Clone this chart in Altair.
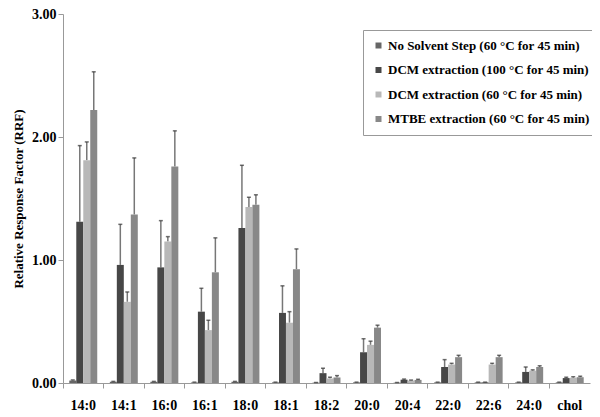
import altair as alt
import pandas as pd

categories = ["14:0", "14:1", "16:0", "16:1", "18:0", "18:1", "18:2", "20:0", "20:4", "22:0", "22:6", "24:0", "chol"]
series = ["No Solvent Step (60 °C for 45 min)",
          "DCM extraction (100 °C for 45 min)",
          "DCM extraction (60 °C for 45 min)",
          "MTBE extraction (60 °C for 45 min)"]
colors = ["#666666", "#474747", "#b8b8b8", "#888888"]

no_solvent = [0.02, 0.01, 0.01, 0.005, 0.01, 0.005, 0.003, 0.005, 0.003, 0.005, 0.005, 0.005, 0.005]
no_solvent_err = [0.005, 0.003, 0.003, 0.002, 0.003, 0.002, 0.001, 0.002, 0.001, 0.002, 0.002, 0.002, 0.002]
dcm100 = [1.31, 0.96, 0.94, 0.58, 1.26, 0.57, 0.08, 0.25, 0.027, 0.13, 0.005, 0.09, 0.04]
dcm100_err = [0.62, 0.33, 0.38, 0.19, 0.51, 0.22, 0.04, 0.11, 0.005, 0.06, 0.002, 0.04, 0.007]
dcm60 = [1.81, 0.66, 1.15, 0.43, 1.43, 0.49, 0.037, 0.31, 0.02, 0.15, 0.15, 0.10, 0.043]
dcm60_err = [0.15, 0.08, 0.04, 0.08, 0.08, 0.09, 0.01, 0.03, 0.004, 0.01, 0.01, 0.007, 0.008]
mtbe = [2.22, 1.37, 1.76, 0.90, 1.45, 0.925, 0.045, 0.45, 0.025, 0.21, 0.21, 0.13, 0.047]
mtbe_err = [0.31, 0.46, 0.29, 0.28, 0.08, 0.165, 0.015, 0.02, 0.005, 0.015, 0.015, 0.01, 0.008]

vals = [no_solvent, dcm100, dcm60, mtbe]
errs = [no_solvent_err, dcm100_err, dcm60_err, mtbe_err]
rows = []
for s, v, e in zip(series, vals, errs):
    for c, vv, ee in zip(categories, v, e):
        rows.append({"cat": c, "series": s, "value": vv, "top": vv + ee})
df = pd.DataFrame(rows)

FONT = "Liberation Serif"

x = alt.X("cat:N", sort=categories, title=None,
          scale=alt.Scale(paddingInner=0, paddingOuter=0),
          axis=alt.Axis(labelAngle=0, labelFont=FONT, labelFontSize=14, labelFontWeight="bold",
                        labelColor="#000", bandPosition=0, domainColor="#999", tickColor="#999",
                        tickSize=5, labelPadding=10))
xo = alt.XOffset("series:N", sort=series,
                 scale=alt.Scale(paddingInner=0, paddingOuter=0.9))

base = alt.Chart(df)

bars = base.mark_bar().encode(
    x=x, xOffset=xo,
    y=alt.Y("value:Q", title="Relative Response Factor (RRF)",
            scale=alt.Scale(domain=[0, 3]),
            axis=alt.Axis(values=[0, 1, 2, 3], format=".2f", grid=False,
                          labelFont=FONT, labelFontSize=14, labelFontWeight="bold", labelColor="#000",
                          titleFont=FONT, titleFontSize=13, titleFontWeight="bold", titleColor="#000",
                          domainColor="#999", tickColor="#999", tickSize=5, titlePadding=6)),
    color=alt.Color("series:N", sort=series, scale=alt.Scale(domain=series, range=colors),
                    legend=alt.Legend(title=None, orient="none", legendX=300, legendY=16,
                                      labelFont=FONT, labelFontSize=13, labelFontWeight="bold",
                                      labelColor="#000", symbolType="square", symbolSize=36,
                                      symbolOffset=0, labelOffset=3,
                                      rowPadding=10.5, padding=9, strokeColor="#999",
                                      fillColor="white", labelLimit=300, symbolStrokeWidth=0)),
)

err_lines = base.mark_rule(strokeWidth=1.5, color="#777").encode(
    x=x, xOffset=xo, y="value:Q", y2="top:Q")

caps = base.mark_tick(size=4, thickness=1.5, color="#333").encode(
    x=x, xOffset=xo, y="top:Q")

chart = (err_lines + bars + caps).properties(
    width=527, height=369,
    autosize=alt.AutoSizeParams(type="none"),
    padding={"left": 55, "top": 6, "right": 2, "bottom": 30},
).configure_view(stroke=None)

chart.save("out.html", embed_options={"renderer": "svg", "actions": False})
